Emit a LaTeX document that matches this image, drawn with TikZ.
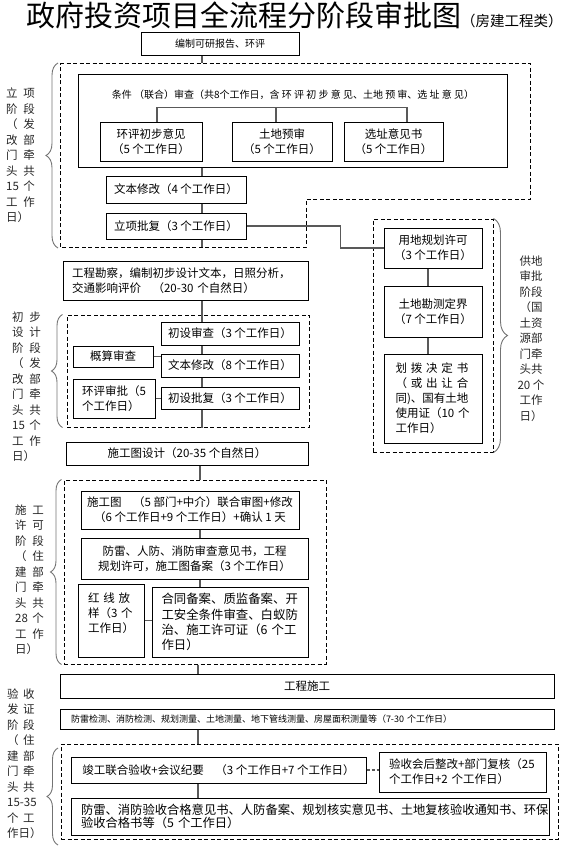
\documentclass[tikz,border=0pt]{standalone}
\usepackage{fontspec}
\setmainfont{Noto Sans CJK SC}
\usetikzlibrary{decorations.pathreplacing, calc}

\newcommand{\zwei}[1]{\begin{tabular}{@{}l@{\hspace{4.5pt}}l@{}}#1\end{tabular}}
\newcommand{\ganz}[1]{\multicolumn{2}{@{}l@{}}{#1}}

\tikzset{
    kasten/.style={draw, line width=1pt, inner sep=0pt, align=center,
        font=\fontsize{11.5}{15}\selectfont},
    rahmen/.style={draw, line width=1pt, dash pattern=on 4pt off 2.5pt},
    linie/.style={draw=black!65, line width=1.1pt},
    klammer/.style={draw=black!55, line width=0.9pt, decorate,
        decoration={brace, amplitude=#1}},
    klammer/.default=11,
    stufe/.style={inner sep=0pt, text=black!85, font=\fontsize{11.5}{15.5}\selectfont},
}

\begin{document}
\begin{tikzpicture}[x=1pt, y=-1pt]

\useasboundingbox (0,0) rectangle (571,846);

% Titel
\node[anchor=base west, inner sep=0pt] (T) at (26,26.5)
    {{\fontsize{29}{29}\selectfont 政府投资项目全流程分阶段审批图}{\fontsize{14.5}{14.5}\selectfont （房建工程类）}};

% Hauptlinien (x-Werte)
\coordinate (S1) at (202,0);
\coordinate (S2) at (428,0);
\coordinate (S3) at (200,0);
\coordinate (S4) at (198,0);

% Projektphase: Rahmen
\draw[rahmen] (60,63) -- (530,63) -- (530,199) -- (306,199) -- (306,247) -- (60,247) -- cycle;
\coordinate (R1o) at (202,63);
\coordinate (R1u) at (202,247);

\node[kasten, minimum width=158pt, minimum height=23pt, font=\fontsize{10}{12}\selectfont] (KY) at (220,43.5) {编制可研报告、环评};

% Bedingungspruefung mit drei Gutachten
\node[kasten, minimum width=429pt, minimum height=93pt] (TJ) at (292.5,120.5) {};
\node[inner sep=0pt, font=\fontsize{10}{12}\selectfont] (TJt) at (293,95)
    {条件 （联合）审查（共8个工作日，含 环 评 初 步 意 见、土地 预 审、选 址 意 见）};
\node[kasten, minimum width=102pt, minimum height=39pt] (HP) at (151,141.5) {环评初步意见\\（5 个工作日）};
\node[kasten, minimum width=100pt, minimum height=39pt] (TD) at (282,141.5) {土地预审\\（5 个工作日）};
\node[kasten, minimum width=99pt, minimum height=39pt] (XZ) at (393.5,141.5) {选址意见书\\（5 个工作日）};
\draw[linie] ([xshift=6pt]HP.north) -- ++(0,-14) -| ([xshift=13.5pt]XZ.north);
\draw[linie] ([xshift=-6pt]TD.north) -- ++(0,-14);

\node[kasten, minimum width=140pt, minimum height=27pt] (WB1) at (176,189.5) {文本修改（4 个工作日）};
\node[kasten, minimum width=140pt, minimum height=26pt] (LX) at (176,226) {立项批复（3 个工作日）};

\draw[linie] (KY.south -| S1) -- (R1o);
\draw[linie] (TJ.south -| S1) -- (WB1.north -| S1);
\draw[linie] (WB1.south -| S1) -- (LX.north -| S1);
\draw[linie] (LX.south -| S1) -- (R1u);

\draw[klammer=12] (58,248) -- (58,63);
\node[stufe, anchor=west] (L1) at (6,156.5)
    {\zwei{立&项\\阶&段\\（&发\\改&部\\门&牵\\头&共\\15&个\\工&作\\\ganz{日）}}};

% Grundstuecksphase
\node[rahmen, minimum width=120pt, minimum height=233pt] (R2) at (433,335.5) {};
\node[kasten, minimum width=98pt, minimum height=40pt] (YD) at (433,248) {用地规划许可\\（3 个工作日）};
\node[kasten, minimum width=98pt, minimum height=51pt] (KC) at (433,311.5) {土地勘测定界\\（7 个工作日）};
\node[kasten, text width=75pt, align=left, minimum width=98pt, minimum height=89pt] (HB) at (433,398.5)
    {\makebox[75pt][s]{划 拨 决 定 书}\\\makebox[75pt][s]{（ 或 出 让 合}\\同)、国有土地\\使用证（10 个\\工作日）};
\draw[linie] (YD.south -| S2) -- (KC.north -| S2);
\draw[linie] (KC.south -| S2) -- (HB.north -| S2);
\draw[linie] (LX.east) -- ++(94,0) |- (YD.west);

\draw[klammer=14] (R2.north east) -- (R2.south east);
\node[stufe, align=center] (L2) at (531,338.5)
    {供地\\审批\\阶段\\（国\\土资\\源部\\门牵\\头共\\20 个\\工作\\日）};

% Vorentwurf
\node[kasten, text width=227pt, inner xsep=9pt, minimum height=39pt, align=left] (GC) at (185.5,280.5)
    {工程勘察，编制初步设计文本，日照分析，\\交通影响评价　（20-30 个自然日）};
\node[rahmen, minimum width=242pt, minimum height=112pt] (R3) at (188,371) {};
\node[kasten, minimum width=138pt, minimum height=23pt] (CS) at (230,333.5) {初设审查（3 个工作日）};
\node[kasten, minimum width=138pt, minimum height=23pt] (WB2) at (230,365.5) {文本修改（8 个工作日）};
\node[kasten, minimum width=138pt, minimum height=22pt] (CP) at (230,398) {初设批复（3 个工作日）};
\node[kasten, minimum width=80pt, minimum height=21pt] (GS) at (113,356.5) {概算审查};
\node[kasten, text width=64pt, align=left, minimum width=82pt, minimum height=39pt] (HS) at (114,398.5)
    {环评审批（5\\个工作日）};

\draw[linie] (GC.south -| S1) -- (CS.north -| S1);
\draw[linie] (CS.south -| S1) -- (WB2.north -| S1);
\draw[linie] (WB2.south -| S1) -- (CP.north -| S1);
\draw[linie] (CP.south -| S1) -- (R3.south -| S1);
\draw[linie] (GS.east) -- (GS.east -| WB2.west);
\draw[linie] (HS.east) -- (HS.east -| CP.west);

\draw[klammer] ([xshift=-4pt]R3.south west) -- ([xshift=-4pt]R3.north west);
\node[stufe, anchor=west] (L3) at (12,388)
    {\zwei{初&步\\设&计\\阶&段\\（&发\\改&部\\门&牵\\头&共\\15&个\\工&作\\\ganz{日）}}};

% Baugenehmigung
\node[kasten, minimum width=242pt, minimum height=23pt] (SD) at (187,453.5) {施工图设计（20-35 个自然日）};
\node[rahmen, minimum width=262pt, minimum height=184pt] (R4) at (195,572) {};
\node[kasten, minimum width=218pt, minimum height=38pt] (SS) at (190,510)
    {施工图　（5 部门+中介）联合审图+修改\\（6 个工作日+9 个工作日）+确认 1 天};
\node[kasten, minimum width=227pt, minimum height=41pt] (FL) at (194.5,558.5)
    {防雷、人防、消防审查意见书，工程\\规划许可，施工图备案（3 个工作日）};
\node[kasten, text width=46pt, align=left, minimum width=66pt, minimum height=73pt] (HX) at (111,620.5)
    {\makebox[44pt][s]{红 线 放}\\\makebox[44pt][s]{样（3 个}\\工作日）\\\mbox{}};
\node[kasten, text width=137pt, align=left, minimum width=156pt, minimum height=70pt,
    font=\fontsize{12.4}{15.3}\selectfont] (HT) at (230,622)
    {合同备案、质监备案、开\\工安全条件审查、白蚁防\\治、施工许可证（6 个工\\作日）};

\draw[linie] (SD.south -| S3) -- (R4.north -| S3);
\draw[linie] (SS.south -| S3) -- (FL.north -| S3);
\draw[linie] (FL.south -| S3) -- (HT.north -| S3);
\draw[linie] (HX.east) -- (HX.east -| HT.west);

\draw[klammer] ([xshift=-2pt]R4.south west) -- ([xshift=-2pt]R4.north west);
\node[stufe, anchor=west] (L4) at (15,581)
    {\zwei{施&工\\许&可\\阶&段\\（&住\\建&部\\门&牵\\头&共\\28&个\\工&作\\\ganz{日）}}};

% Bau und Abnahme
\node[kasten, minimum width=494pt, minimum height=24pt] (SG) at (307,686) {工程施工};
\node[kasten, text width=472pt, inner xsep=11pt, minimum height=20pt, align=left,
    font=\fontsize{9}{11}\selectfont] (JC) at (307,719)
    {防雷检测、消防检测、规划测量、土地测量、地下管线测量、房屋面积测量等（7-30 个工作日）};
\node[rahmen, minimum width=497pt, minimum height=95pt] (R5) at (309.5,791.5) {};
\node[kasten, minimum width=295pt, minimum height=26pt] (JG) at (218.5,770)
    {竣工联合验收+会议纪要　（3 个工作日+7 个工作日）};
\node[kasten, text width=147pt, inner xsep=10pt, minimum height=40pt, align=left] (ZG) at (462.5,772)
    {验收会后整改+部门复核（25\\个工作日+2 个工作日）};
\node[kasten, text width=458pt, inner xsep=10pt, minimum height=37pt, align=left,
    font=\fontsize{12.3}{13.5}\selectfont] (YS) at (310,816.5)
    {防雷、消防验收合格意见书、人防备案、规划核实意见书、土地复核验收通知书、环保\\验收合格书等（5 个工作日）};

\draw[linie] (R4.south -| S4) -- (SG.north -| S4);
\draw[linie] (JC.south -| S4) -- (R5.north -| S4);
\draw[linie] (JG.south -| S4) -- (YS.north -| S4);
\draw[linie, dash pattern=on 3pt off 2pt] (JG.east) -- (JG.east -| ZG.west);

\draw[klammer] (58,845) -- (58,748);
\node[stufe, anchor=west] (L5) at (7,765)
    {\zwei{验&收\\发&证\\阶&段\\（&住\\建&部\\门&牵\\头&共\\\ganz{15-35}\\个&工\\\ganz{作日）}}};

\end{tikzpicture}
\end{document}
